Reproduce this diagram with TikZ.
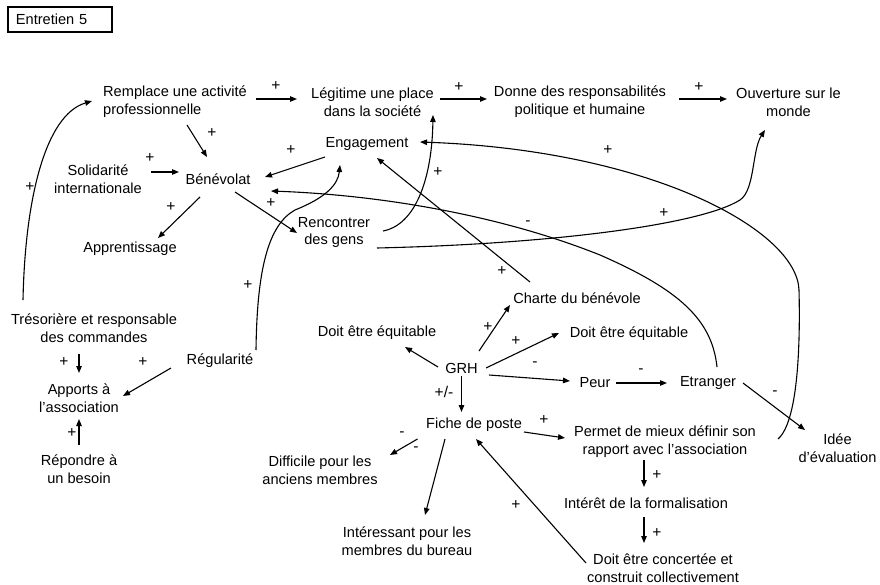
\documentclass[tikz,border=0pt]{standalone}
\usepackage{fontspec}
\setmainfont{Liberation Sans}
\usetikzlibrary{arrows.meta,calc}
\begin{document}
\begin{tikzpicture}[x=1pt,y=-1pt,
  every node/.style={inner sep=0pt, font=\fontsize{14.6}{17.8}\selectfont},
  txt/.style={align=center},
  txtl/.style={align=left},
  lbl/.style={font=\fontsize{15.5}{15.5}\selectfont},
  arr/.style={line width=1.1pt, -{Triangle[length=7pt,width=5.5pt]}},
  crv/.style={line width=1.1pt, -{Triangle[length=7pt,width=5.5pt]}},
]
\useasboundingbox (0,0) rectangle (880,585);
\node[draw, line width=1.8pt, minimum height=25pt, text width=88pt, inner xsep=8pt, anchor=west, align=left] (ent) at (7,19.5) {Entretien 5};

\node[txtl] (rempl) at (175,102) {Remplace une activité\\professionnelle};
\node[txt] (legit) at (372.5,102) {Légitime une place\\dans la société};
\node[txt] (donne) at (580,102) {Donne des responsabilités\\politique et humaine};
\node[txt] (ouv) at (788.5,102) {Ouverture sur le\\monde};
\node (engag) at (367,144) {Engagement};
\node[txt] (solid) at (98,179) {Solidarité\\internationale};
\node (benev) at (218,179) {Bénévolat};
\node (appr) at (130,249) {Apprentissage};
\node[txt] (renc) at (334,232.5) {Rencontrer\\des gens};
\node (charte) at (577,298) {Charte du bénévole};
\node (eqL) at (377,333) {Doit être équitable};
\node (eqR) at (629,334) {Doit être équitable};
\node (grh) at (461.5,368) {GRH};
\node (peur) at (595,383) {Peur};
\node (etr) at (708,383) {Etranger};
\node[txt] (idee) at (837.5,448.5) {Idée\\d’évaluation};
\node[txt] (treso) at (94,328) {Trésorière et responsable\\des commandes};
\node (regul) at (220,361) {Régularité};
\node[txt] (apports) at (79,398.5) {Apports à\\l’association};
\node[txt] (repond) at (79,469.5) {Répondre à\\un besoin};
\node (fiche) at (474,424.5) {Fiche de poste};
\node[txt] (permet) at (665,441.5) {Permet de mieux définir son\\rapport avec l’association};
\node[txt] (diff) at (320,470.5) {Difficile pour les\\anciens membres};
\node (interet) at (646,503) {Intérêt de la formalisation};
\node[txt] (interes) at (407,541) {Intéressant pour les\\membres du bureau};
\node[txt] (concert) at (663,568) {Doit être concertée et\\construit collectivement};

% straight connectors
\draw[arr] ($(rempl)+(81,-3)$) -- ($(legit)+(-75.5,-3)$);
\draw[arr] ($(legit)+(67.5,-3)$) -- ($(donne)+(-93,-3)$);
\draw[arr] ($(donne)+(99,-3)$) -- ($(ouv)+(-61.5,-3)$);
\draw[arr] ($(rempl)+(12,23)$) -- ($(benev)+(-11,-22)$);
\draw[arr] ($(solid)+(53,-7)$) -- ($(benev)+(-39,-7)$);
\draw[arr] ($(engag)+(-42,13)$) -- ($(benev)+(47,-2)$);
\draw[arr] ($(benev)+(-18,18)$) -- ($(appr)+(28,-11)$);
\draw[arr] ($(benev)+(17,13)$) -- ($(renc)+(-37,0.5)$);
\draw[arr] ($(charte)+(-47,-16)$) -- ($(engag)+(10,14)$);
\draw[arr] ($(treso)+(-15,26)$) -- ($(apports)+(0,-25.5)$);
\draw[arr] ($(regul)+(-49,7)$) -- ($(apports)+(44,-2.5)$);
\draw[arr] ($(repond)+(0,-24.5)$) -- ($(apports)+(0,20.5)$);
\draw[arr] ($(grh)+(-23.5,-1)$) -- ($(eqL)+(28,14)$);
\draw[arr] ($(grh)+(17.5,-17)$) -- ($(charte)+(-67,7)$);
\draw[arr] ($(grh)+(24.5,0)$) -- ($(eqR)+(-70,-1)$);
\draw[arr] ($(grh)+(27.5,7)$) -- ($(peur)+(-25,-2)$);
\draw[arr] ($(peur)+(21,0)$) -- ($(etr)+(-41,0)$);
\draw[arr] ($(etr)+(35,0)$) -- ($(idee)+(-32.5,-18.5)$);
\draw[arr] ($(grh)+(0,8)$) -- ($(fiche)+(-12.5,-12.5)$);
\draw[arr] ($(fiche)+(50,7.5)$) -- ($(permet)+(-100,-3.5)$);
\draw[arr] ($(fiche)+(-56.5,14.5)$) -- ($(diff)+(70,-15.5)$);
\draw[arr] ($(fiche)+(-29,14.5)$) -- ($(interes)+(18,-26)$);
\draw[arr] ($(concert)+(-77,-5)$) -- ($(fiche)+(2,14.5)$);
\draw[arr] ($(permet)+(-21,18.5)$) -- ($(interet)+(-2,-16)$);
\draw[arr] ($(interet)+(-2,14)$) -- ($(concert)+(-19,-25)$);

% curved connectors
\draw[crv] ($(etr)+(9,-16)$) .. controls (712,320) and (680,290) .. (600,255) .. controls (500,215) and (380,195) .. ($(benev)+(53,12)$);
\draw[crv] ($(renc)+(49,-1.5)$) .. controls (415,225) and (432,180) .. ($(legit)+(60.5,13)$);
\draw[crv] ($(renc)+(43,15.5)$) .. controls (550,244) and (700,225) .. (740,200) .. controls (755,190) and (752,150) .. ($(ouv)+(-23.5,28)$);
\draw[crv] ($(permet)+(113,-2.5)$) .. controls (800,420) and (800,330) .. (799,290) .. controls (797,230) and (650,150) .. ($(engag)+(53,-2)$);
\draw[crv] ($(regul)+(36,-11)$) .. controls (257,270) and (268,225) .. (295,210) .. controls (325,198) and (338,185) .. ($(engag)+(-27,21)$);
\draw[crv] ($(treso)+(-71,-28)$) .. controls (25,200) and (45,115) .. ($(rempl)+(-83,-1)$);

% polarity labels
\node[lbl] (p1) at (276,86) {+};
\node[lbl] (p2) at (459,87) {+};
\node[lbl] (p3) at (699,87) {+};
\node[lbl] (p4) at (212,133) {+};
\node[lbl] (p5) at (150,158) {+};
\node[lbl] (p6) at (291,150) {+};
\node[lbl] (p7) at (171,207) {+};
\node[lbl] (p8) at (271,203) {+};
\node[lbl] (m9) at (528,223) {-};
\node[lbl] (p10) at (438,172) {+};
\node[lbl] (p11) at (664,213) {+};
\node[lbl] (p12) at (502,271) {+};
\node[lbl] (p13) at (608,150) {+};
\node[lbl] (p14) at (248,285) {+};
\node[lbl] (p15) at (30,187) {+};
\node[lbl] (p16) at (64,362) {+};
\node[lbl] (p17) at (143,362) {+};
\node[lbl] (p18) at (72,433) {+};
\node[lbl] (p20) at (488,327) {+};
\node[lbl] (p21) at (516,341) {+};
\node[lbl] (m22) at (535,364) {-};
\node[lbl] (m23) at (641,371) {-};
\node[lbl] (m24) at (775,393) {-};
\node[lbl] (pm25) at (444,392) {+/-};
\node[lbl] (p26) at (544,420) {+};
\node[lbl] (m27a) at (402,434) {-};
\node[lbl] (m27b) at (416,449) {-};
\node[lbl] (p29) at (516,505) {+};
\node[lbl] (p30) at (657,475) {+};
\node[lbl] (p31) at (657,533) {+};
\end{tikzpicture}
\end{document}
